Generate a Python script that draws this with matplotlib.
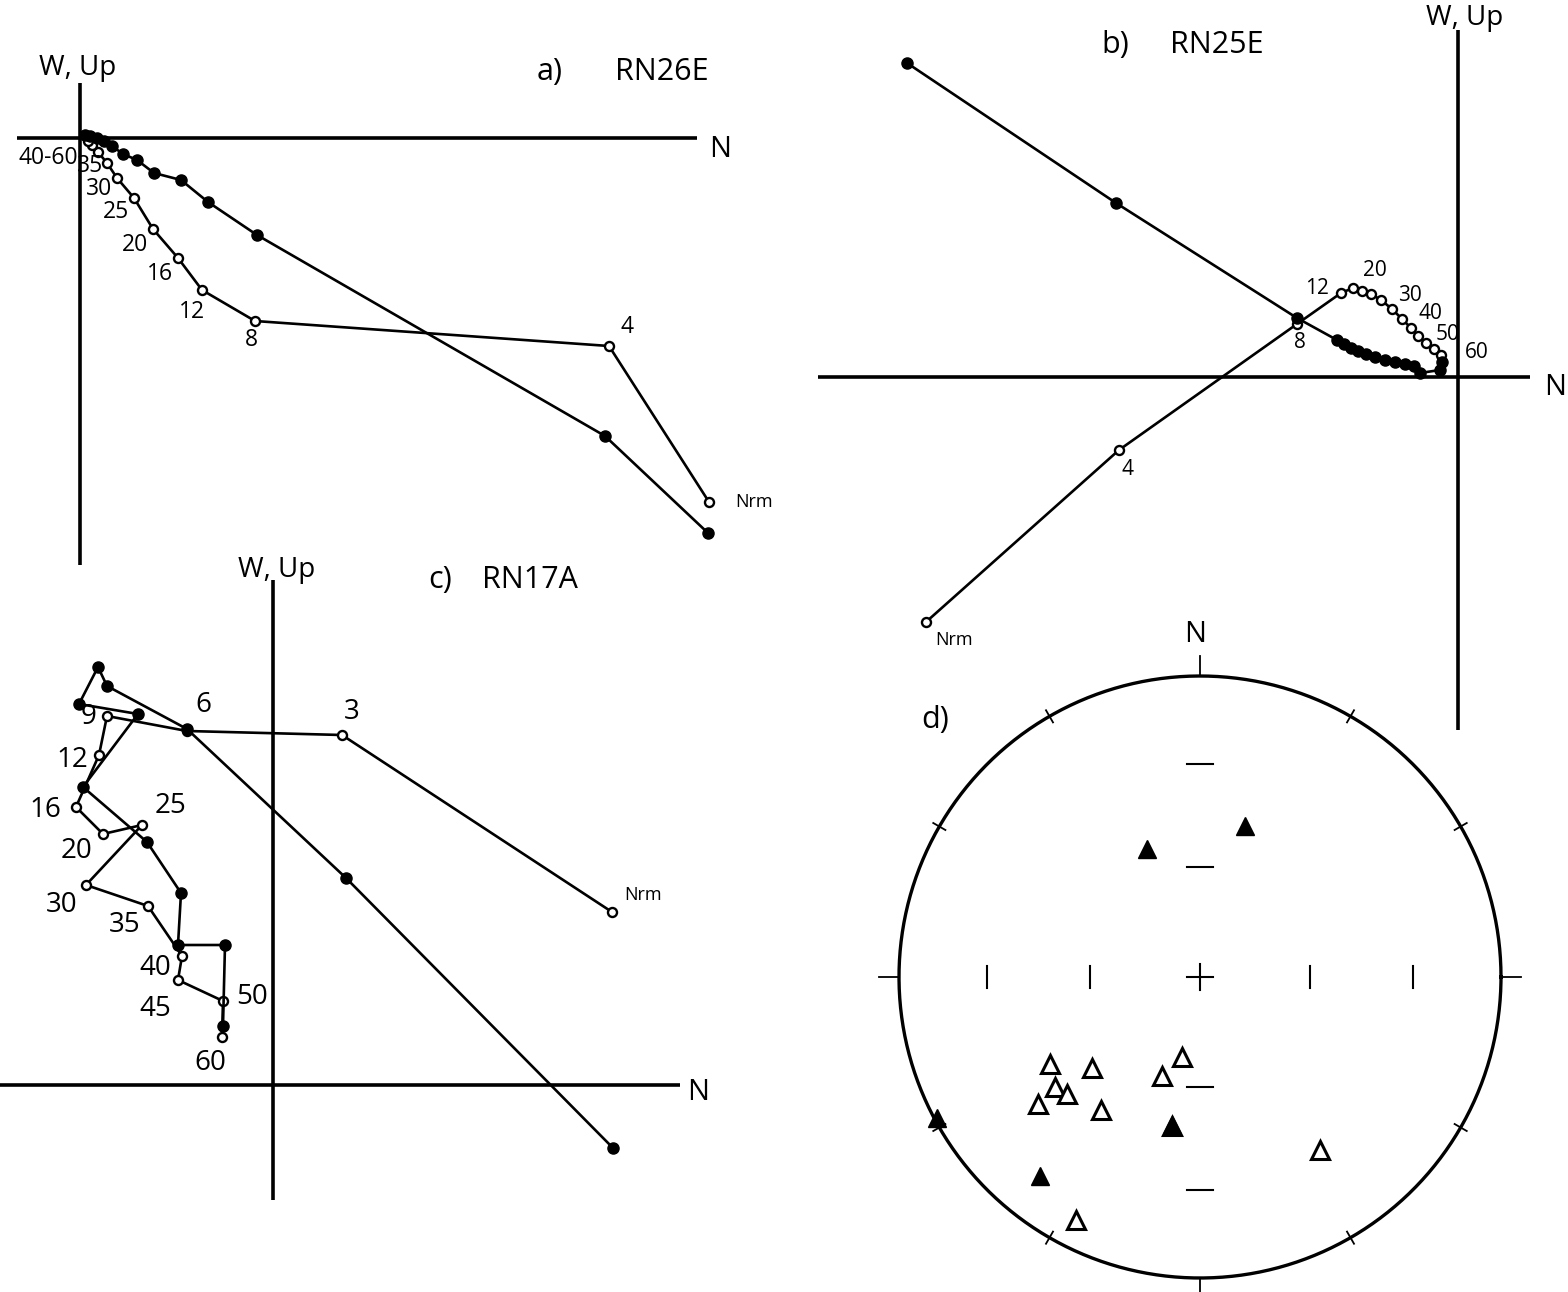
import numpy as np
import matplotlib.pyplot as plt

plt.rcParams["font.family"] = ["Open Sans", "DejaVu Sans"]

W, H = 1568, 1292

# a) RN26E  -- filled = horizontal plane, open = vertical plane (Nrm first)
a_fill_x = [628, 525, 177, 128, 101, 74, 57, 43, 32, 24, 17, 10, 5]
a_fill_y = [-395, -298, -97, -64, -42, -35, -22, -16, -8, -3, 0, 2, 3]
a_open_x = [629, 529, 175, 122, 98, 73, 54, 37, 27, 18, 12, 8]
a_open_y = [-364, -208, -183, -152, -120, -91, -60, -40, -25, -14, -7, -3]
a_labels = ["40-60", "35", "30", "25", "20", "16", "12", "8", "4"]
a_lab_x = [-32, 10, 19, 36, 55, 80, 112, 171, 547]
a_lab_y = [-20, -28, -51, -74, -107, -136, -174, -202, -189]

# b) RN25E
b_fill_x = [-551, -342, -161, -121, -114, -107, -100, -92, -83, -73, -63, -53, -44, -38, -18, -16]
b_fill_y = [314, 174, 59, 37, 33, 29, 26, 23, 20, 17, 15, 13, 11, 4, 7, 15]
b_open_x = [-532, -339, -161, -117, -105, -96, -87, -77, -66, -56, -47, -40, -32, -24, -17]
b_open_y = [-245, -73, 53, 84, 89, 86, 83, 77, 68, 58, 49, 41, 34, 28, 22]
b_labels = ["12", "20", "30", "40", "50", "60", "8", "4"]
b_lab_x = [-141, -83, -48, -28, -10, 19, -158, -330]
b_lab_y = [88, 106, 81, 63, 42, 24, 34, -93]

# c) RN17A
c_fill_x = [340, 73, -86, -166, -175, -194, -135, -190, -126, -92, -95, -48, -50]
c_fill_y = [-63, 207, 356, 399, 418, 381, 371, 298, 243, 192, 140, 140, 59]
c_open_x = [339, 69, -86, -166, -174, -197, -170, -131, -187, -125, -91, -95, -50, -51]
c_open_y = [173, 350, 354, 369, 330, 278, 251, 260, 200, 179, 129, 105, 84, 48]
c_labels = ["6", "3", "9", "12", "16", "20", "25", "30", "35", "40", "45", "50", "60"]
c_lab_x = [-70, 79, -184, -201, -228, -197, -103, -211, -148, -118, -118, -21, -63]
c_lab_y = [380, 373, 368, 325, 275, 234, 279, 180, 160, 117, 76, 88, 22]

# d) equal-area stereonet, declination / inclination
d_fill_dec = [16.6, 337.5, 241.8, 218.8, 190.7]
d_fill_inc = [46.5, 52.0, 1.0, 16.3, 48.6]
d_open_dec = [239.9, 229.9, 192.7, 201.0, 232.8, 228.7, 231.9, 216.7, 190.8, 145.3, 207.0]
d_open_inc = [41.9, 51.2, 67.8, 61.2, 39.4, 40.8, 32.2, 44.2, 48.3, 30.7, 10.3]

fig = plt.figure(figsize=(W / 100, H / 100), dpi=100)


def panel(ox, oy):
    ax = fig.add_axes([0, 0, 1, 1])
    ax.set_xlim(-ox, W - ox)
    ax.set_ylim(oy - H, oy)
    ax.axis("off")
    return ax


def zijderveld(ax, xr, yr, fx, fy, ox_, oy_):
    ax.plot(xr, [0, 0], color="k", lw=2.6, solid_capstyle="butt")
    ax.plot([0, 0], yr, color="k", lw=2.6, solid_capstyle="butt")
    ax.plot(ox_, oy_, "-o", color="k", lw=1.9, ms=6.5, mfc="white", mec="k", mew=1.7)
    ax.plot(fx, fy, "-o", color="k", lw=1.9, ms=8, mfc="k", mec="k")


# panel a
ax = panel(80, 138)
zijderveld(ax, [-63, 617], [55, -427], a_fill_x, a_fill_y, a_open_x, a_open_y)
for t, x, y in zip(a_labels, a_lab_x, a_lab_y):
    ax.text(x, y, t, fontsize=16.5, ha="center", va="center")
ax.text(655, -364, "Nrm", fontsize=13, ha="left", va="center")
ax.text(640, -12, "N", fontsize=21, ha="center", va="center")
ax.text(-2, 70, "W, Up", fontsize=20, ha="center", va="center")
ax.text(470, 66, "a)", fontsize=22, ha="center", va="center")
ax.text(582, 66, "RN26E", fontsize=22, ha="center", va="center")

# panel b
ax = panel(1458, 377)
zijderveld(ax, [-640, 72], [347, -353], b_fill_x, b_fill_y, b_open_x, b_open_y)
for t, x, y in zip(b_labels, b_lab_x, b_lab_y):
    ax.text(x, y, t, fontsize=15, ha="center", va="center")
ax.text(-523, -263, "Nrm", fontsize=13, ha="left", va="center")
ax.text(97, -11, "N", fontsize=21, ha="center", va="center")
ax.text(7, 359, "W, Up", fontsize=20, ha="center", va="center")
ax.text(-343, 332, "b)", fontsize=22, ha="center", va="center")
ax.text(-241, 332, "RN25E", fontsize=22, ha="center", va="center")

# panel c
ax = panel(273, 1085)
zijderveld(ax, [-273, 407], [505, -115], c_fill_x, c_fill_y, c_open_x, c_open_y)
for t, x, y in zip(c_labels, c_lab_x, c_lab_y):
    ax.text(x, y, t, fontsize=20, ha="center", va="center")
ax.text(370, 190, "Nrm", fontsize=13, ha="center", va="center")
ax.text(425, -7, "N", fontsize=21, ha="center", va="center")
ax.text(4, 515, "W, Up", fontsize=20, ha="center", va="center")
ax.text(167, 505, "c)", fontsize=22, ha="center", va="center")
ax.text(257, 505, "RN17A", fontsize=22, ha="center", va="center")

# panel d: stereonet
R = 301
ax = panel(1200, 977)


def proj(dec, inc):
    dec = np.radians(np.asarray(dec, dtype=float))
    r = R * np.sqrt(2) * np.sin(np.radians(90 - np.abs(np.asarray(inc, dtype=float))) / 2)
    return r * np.sin(dec), r * np.cos(dec)


t = np.linspace(0, 2 * np.pi, 400)
ax.plot(R * np.cos(t), R * np.sin(t), color="k", lw=2.4)
for d in range(0, 360, 30):
    s, c = np.sin(np.radians(d)), np.cos(np.radians(d))
    if d % 90 == 0:
        r0, r1 = R, R + 20
    else:
        r0, r1 = R - 7, R + 7
    ax.plot([r0 * s, r1 * s], [r0 * c, r1 * c], color="k", lw=1.3)
# centre cross and inclination marks (30 and 60 deg)
ax.plot([-13, 13], [0, 0], color="k", lw=1.5)
ax.plot([0, 0], [-13, 13], color="k", lw=1.5)
for inc in (30, 60):
    for d in (90, 270):
        x, y = proj(d, inc)
        ax.plot([x, x], [y - 11, y + 11], color="k", lw=1.5)
    for d in (0, 180):
        x, y = proj(d, inc)
        ax.plot([x - 13, x + 13], [y, y], color="k", lw=1.5)

fx, fy = proj(d_fill_dec, d_fill_inc)
ox_, oy_ = proj(d_open_dec, d_open_inc)
ax.plot(ox_, oy_, "^", ms=13.5, mfc="white", mec="k", mew=2.2, ls="none")
ax.plot(fx, fy, "^", ms=13.5, mfc="k", mec="k", ls="none")
ax.text(-5, 342, "N", fontsize=21, ha="center", va="center")
ax.text(-265, 257, "d)", fontsize=22, ha="center", va="center")

fig.savefig("out.png", dpi=100, facecolor="white")
